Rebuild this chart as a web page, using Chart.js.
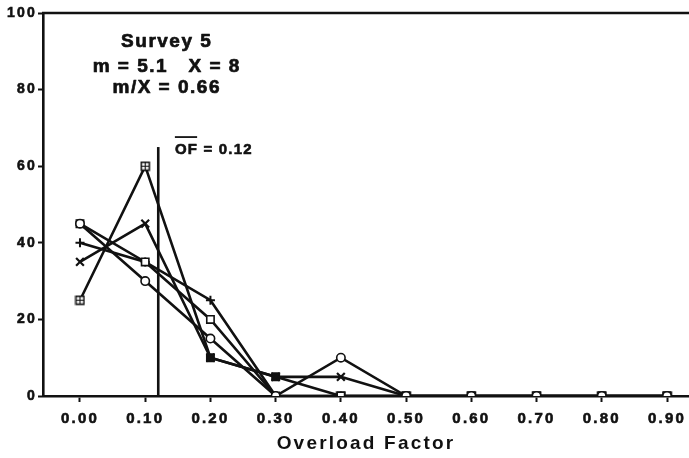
<!DOCTYPE html>
<html><head><meta charset="utf-8">
<script src="https://cdn.jsdelivr.net/npm/chart.js@4"></script>
<style>html,body{margin:0;padding:0;background:#fff;overflow:hidden}#wrap{width:689px;height:458px}canvas{display:block}</style>
</head><body><div id="wrap"><canvas id="c" width="689" height="458"></canvas></div>
<script>
// ---- data ----
const categories = [0.00, 0.10, 0.20, 0.30, 0.40, 0.50, 0.60, 0.70, 0.80, 0.90];
const xTickLabels = ['0.00','0.10','0.20','0.30','0.40','0.50','0.60','0.70','0.80','0.90'];
const yTickValues = [0, 20, 40, 60, 80, 100];
const seriesCircle   = [45, 30, 15, 0, 10, 0, 0, 0, 0, 0];
const seriesSquare   = [45, 35, 20, 0, 0, 0, 0, 0, 0, 0];
const seriesPlus     = [40, 35, 25, 0, 0, 0, 0, 0, 0, 0];
const seriesCross    = [35, 45, 10, 5, 5, 0, 0, 0, 0, 0];
const seriesBoxCross = [25, 60, 10, 5, 0, 0, 0, 0, 0, 0];
const meanOF = 0.12;
const meanLineTop = 65;
const xAxisTitle = 'Overload Factor';
const annotationLines = ['Survey 5', 'm = 5.1   X = 8', 'm/X = 0.66'];
const ofLabelMain = 'OF';
const ofLabelRest = ' = 0.12';

// ---- styles ----
const INK = '#111';
const FONT = '"Liberation Sans", Arial, Helvetica, sans-serif';

function boxCrossImage() {
  const c = document.createElement('canvas');
  c.width = 11; c.height = 11;
  const g = c.getContext('2d');
  g.fillStyle = '#fff'; g.fillRect(1, 1, 9, 9);
  g.strokeStyle = INK; g.lineWidth = 1.6;
  g.strokeRect(1.5, 1.5, 8, 8);
  g.lineWidth = 1.2;
  g.beginPath(); g.moveTo(5.5, 1.5); g.lineTo(5.5, 9.5); g.moveTo(1.5, 5.5); g.lineTo(9.5, 5.5); g.stroke();
  return c;
}
const boxImg = boxCrossImage();

const toXY = arr => arr.map((v, i) => ({ x: categories[i], y: v }));

function lineDs(label, arr, extra) {
  return Object.assign({
    label, data: toXY(arr), borderColor: INK, borderWidth: 2.6, tension: 0,
    pointBorderColor: INK, pointBackgroundColor: '#fff', pointBorderWidth: 1.6,
    pointRadius: 4, fill: false
  }, extra);
}

const datasets = [
  lineDs('circle', seriesCircle, { pointStyle: 'circle', pointRadius: 4.2 }),
  lineDs('square', seriesSquare, { pointStyle: 'rect', pointRadius: 5.2 }),
  lineDs('plus', seriesPlus, { pointStyle: 'cross', pointRadius: 4.5, pointBorderWidth: 2 }),
  lineDs('cross', seriesCross, { pointStyle: 'crossRot', pointRadius: 5.5, pointBorderWidth: 2.2 }),
  lineDs('boxcross', seriesBoxCross, {
    pointStyle: seriesBoxCross.map((v, i) => (i === 2 || i === 3) ? 'rect' : boxImg),
    pointBackgroundColor: seriesBoxCross.map((v, i) => (i === 2 || i === 3) ? INK : '#fff'),
    pointRadius: 5.2
  }),
  { label: 'mean', data: [{ x: meanOF, y: 0 }, { x: meanOF, y: meanLineTop }],
    borderColor: INK, borderWidth: 2.6, pointRadius: 0, fill: false }
];

function heavyText(ctx, t, x, y, sw) {
  ctx.lineWidth = sw; ctx.strokeStyle = INK; ctx.lineJoin = 'round';
  ctx.strokeText(t, x, y);
  ctx.fillText(t, x, y);
}

function noPad() { this.paddingLeft = 0; this.paddingRight = 0; this.paddingTop = 0; this.paddingBottom = 0; }

const decor = {
  id: 'decor',
  beforeDraw(chart) {
    chart.ctx.letterSpacing = '2.2px';
  },
  afterDraw(chart) {
    const ctx = chart.ctx, xs = chart.scales.x, ys = chart.scales.y, a = chart.chartArea;
    ctx.save();
    // top frame line
    ctx.strokeStyle = INK; ctx.lineWidth = 2.6;
    ctx.beginPath(); ctx.moveTo(a.left - 1, a.top); ctx.lineTo(a.right, a.top); ctx.stroke();
    // annotation block
    ctx.fillStyle = INK;
    ctx.font = 'bold 19px ' + FONT;
    ctx.letterSpacing = '1.5px';
    ctx.textAlign = 'center'; ctx.textBaseline = 'alphabetic';
    const cx = xs.getPixelForValue(0.133);
    const baseVals = [91, 84.7, 79.2];
    annotationLines.forEach((t, i) => heavyText(ctx, t, cx, ys.getPixelForValue(baseVals[i]), 0.7));
    // OF label
    ctx.font = 'bold 15px ' + FONT;
    ctx.letterSpacing = '1.2px';
    ctx.textAlign = 'left';
    const ox = xs.getPixelForValue(0.1455), oy = ys.getPixelForValue(63.3);
    heavyText(ctx, ofLabelMain, ox, oy, 0.6);
    const w = ctx.measureText(ofLabelMain).width;
    heavyText(ctx, ofLabelRest, ox + w, oy, 0.6);
    ctx.lineWidth = 1.8;
    ctx.beginPath(); ctx.moveTo(ox, oy - 16.5); ctx.lineTo(ox + w - 1, oy - 16.5); ctx.stroke();
    ctx.restore();
  }
};

new Chart(document.getElementById('c'), {
  type: 'line',
  data: { datasets },
  options: {
    responsive: false, animation: false, devicePixelRatio: 1,
    layout: { autoPadding: false, padding: { top: 13, right: 0, left: 0, bottom: 0 } },
    plugins: { legend: { display: false }, tooltip: { enabled: false } },
    scales: {
      x: {
        type: 'linear', min: -0.0567, max: 0.9337,
        afterBuildTicks: s => { s.ticks = categories.map(v => ({ value: v })); },
        beforeFit: s => { s._calculatePadding = noPad; },
        afterFit: s => { s.height = 62; noPad.call(s); },
        ticks: {
          autoSkip: false, maxRotation: 0, padding: 8, color: INK,
          textStrokeColor: INK, textStrokeWidth: 0.6,
          font: { family: FONT, size: 15, weight: 'bold' },
          callback: (v, i) => xTickLabels[i]
        },
        grid: { drawOnChartArea: false, drawTicks: true, tickLength: 6, tickColor: INK, tickWidth: 2 },
        border: { display: true, color: INK, width: 2.6 },
        title: { display: true, text: xAxisTitle, color: INK,
          font: { family: FONT, size: 19, weight: 'bold' }, padding: { top: 0, bottom: 3 } }
      },
      y: {
        type: 'linear', min: 0, max: 100,
        afterBuildTicks: s => { s.ticks = yTickValues.map(v => ({ value: v })); },
        beforeFit: s => { s._calculatePadding = noPad; },
        afterFit: s => { s.width = 43; noPad.call(s); },
        ticks: { padding: 1, color: INK, textStrokeColor: INK, textStrokeWidth: 0.6,
          font: { family: FONT, size: 14, weight: 'bold' },
          callback: v => String(v) },
        grid: { drawOnChartArea: false, drawTicks: true, tickLength: 5, tickColor: INK, tickWidth: 2 },
        border: { display: true, color: INK, width: 2.6 }
      }
    }
  },
  plugins: [decor]
});
</script>
</body></html>
